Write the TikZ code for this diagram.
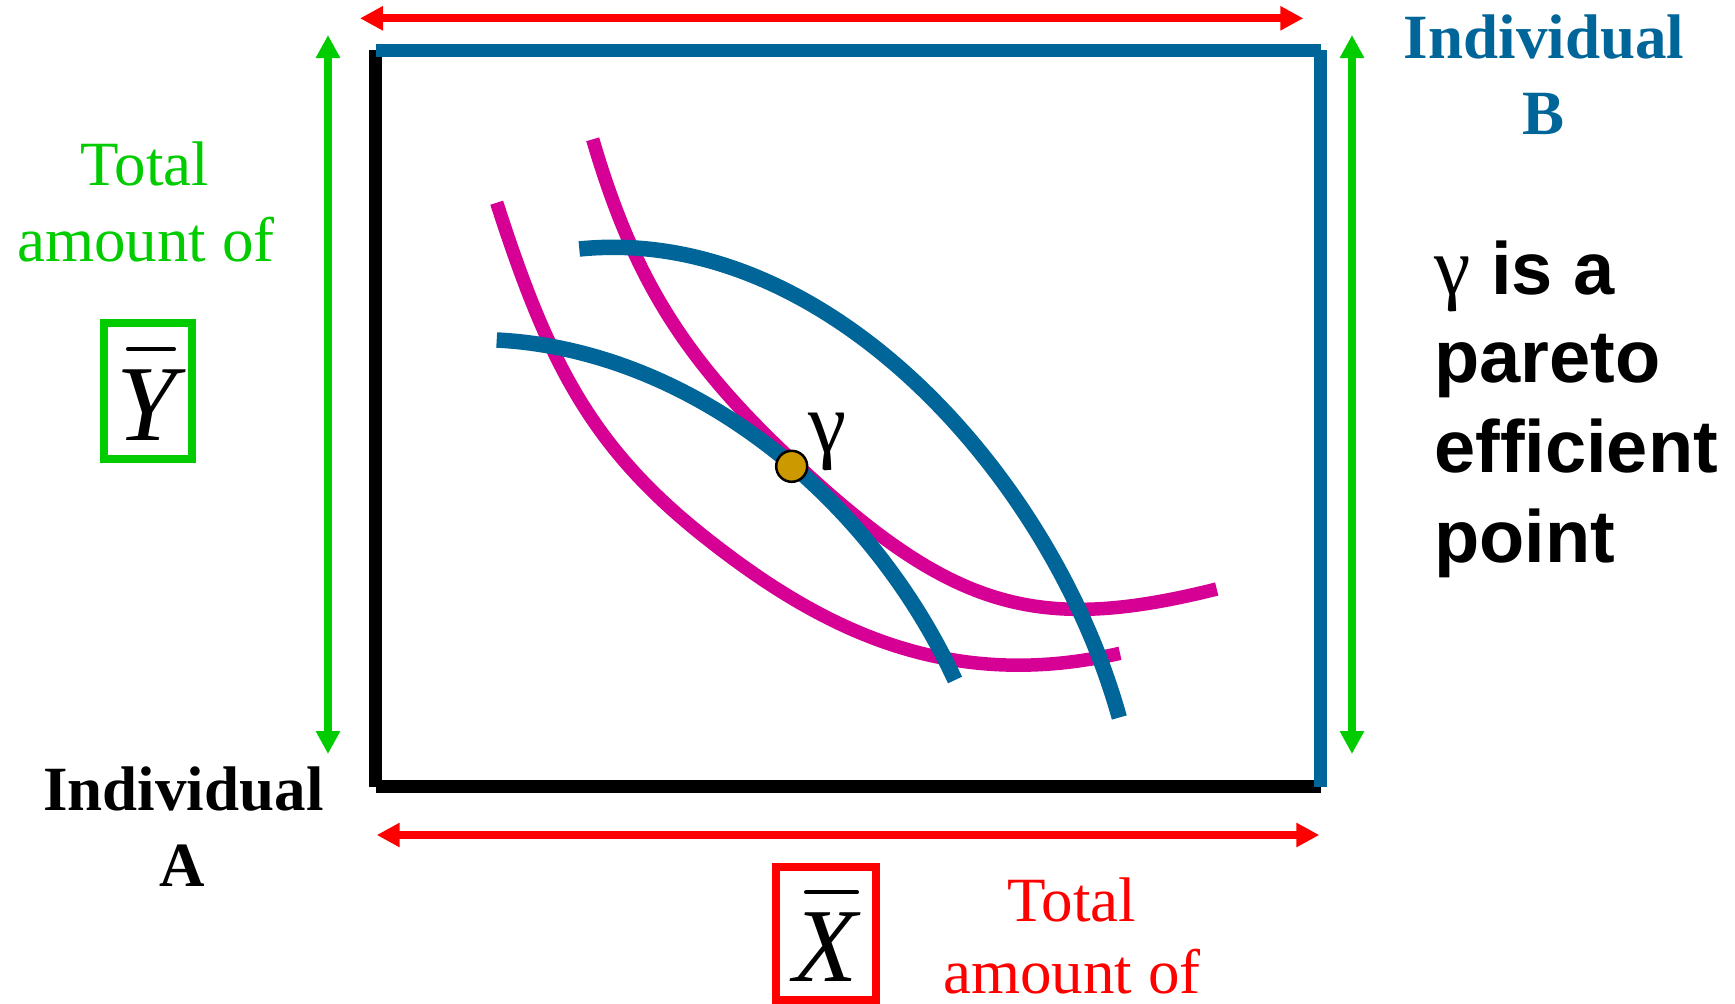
\documentclass[tikz,border=0pt]{standalone}
\usepackage{fontspec}
\setmainfont{Liberation Serif}
\newfontfamily\arialfont{Liberation Sans}[Ligatures=NoCommon]
\usetikzlibrary{arrows.meta}
\definecolor{myblue}{RGB}{0,102,153}
\definecolor{mymag}{RGB}{214,0,148}
\definecolor{mygreen}{RGB}{0,204,0}
\definecolor{myred}{RGB}{255,0,0}
\definecolor{mygold}{RGB}{204,153,0}
\begin{document}
\begin{tikzpicture}[x=1pt,y=-1pt,
  dimarrow/.style={line width=8pt,{Triangle[length=23pt,width=23pt]}-{Triangle[length=23pt,width=23pt]}},
  frameline/.style={line width=12.7pt},
  magcurve/.style={draw=mymag,line width=13.5pt},
  bluecurve/.style={draw=myblue,line width=15.5pt},
  txt/.style={anchor=base,inner sep=0pt},
  serifbig/.style={txt,font=\fontsize{63}{75}\selectfont},
  serifbold/.style={txt,font=\bfseries\fontsize{63}{75}\selectfont},
  sansbold/.style={anchor=base west,inner sep=0pt,font=\arialfont\bfseries\fontsize{74}{89}\selectfont},
  symbox/.style={line width=7.7pt},
  symbar/.style={line width=4pt,line cap=round}]
\useasboundingbox (0,0) rectangle (1735,1004);
\fill[white] (0,0) rectangle (1735,1004);

% frame
\coordinate (tl) at (375.5,50.3);
\coordinate (bl) at (375.5,786.5);
\coordinate (br) at (1320.5,786.5);
\coordinate (tr) at (1320.5,50.3);
\draw[frameline,black] (tl) -- (bl);
\draw[frameline,black] (bl) -- (br);
\draw[frameline,myblue] (tl) -- (tr);
\draw[frameline,myblue] (tr) -- (br);

% dimension arrows
\coordinate (rtL) at (360,18.3);
\coordinate (rtR) at (1303.3,18.3);
\coordinate (rbL) at (376.7,835);
\coordinate (rbR) at (1319.3,835);
\coordinate (glT) at (328,35);
\coordinate (glB) at (328,754);
\coordinate (grT) at (1352,35);
\coordinate (grB) at (1352,754);
\draw[dimarrow,myred] (rtL) -- (rtR);
\draw[dimarrow,myred] (rbL) -- (rbR);
\draw[dimarrow,mygreen] (glT) -- (glB);
\draw[dimarrow,mygreen] (grT) -- (grB);

% indifference curves of A (magenta)
\draw[magcurve] (496.7,202.7) .. controls (548,362) and (591,445.4) .. (700,533.3)
                 .. controls (817.2,627.1) and (944.5,693.3) .. (1120,653.3);
\draw[magcurve] (592.7,139.3) .. controls (633.8,279) and (684.4,360.1) .. (795,463)
                 .. controls (951.9,609) and (1036.2,634.2) .. (1216.7,589);
% indifference curves of B (blue)
\draw[bluecurve] (496.7,340) .. controls (687.6,349.6) and (868,492) .. (955,680);
\draw[bluecurve] (579.3,249) .. controls (828.1,224) and (1053,479.2) .. (1119.3,717.5);

% pareto point
\node[circle,fill=mygold,draw=black,line width=2.5pt,minimum size=31pt,inner sep=0pt] (gammapt) at (791.7,466.3) {};
\node[anchor=base west,inner sep=0pt,font=\fontsize{86}{90}\selectfont] (gammalbl) at (808,452) {γ};

% Y bar box
\draw[symbox,mygreen] (104,323) rectangle (192,459);
\node[txt,font=\itshape\fontsize{108}{110}\selectfont] (ysym) at (147,440.7) {Y};
\coordinate (ybarL) at (128,349.3);
\coordinate (ybarR) at (174,349.3);
\draw[symbar] (ybarL) -- (ybarR);

% X bar box
\draw[symbox,myred] (776,866.7) rectangle (876,1000);
\node[txt,font=\itshape\fontsize{105}{110}\selectfont] (xsym) at (826,981.7) {X};
\coordinate (xbarL) at (806,892.3);
\coordinate (xbarR) at (857,892.3);
\draw[symbar] (xbarL) -- (xbarR);

% texts
\node[serifbig,text=mygreen] (gtot1) at (145,185) {Total};
\node[serifbig,text=mygreen] (gtot2) at (146,261.7) {amount of};
\node[serifbig,text=myred] (rtot1) at (1072,921) {Total};
\node[serifbig,text=myred] (rtot2) at (1072,993) {amount of};
\node[serifbold,text=myblue] (indB1) at (1544,58.2) {Individual};
\node[serifbold,text=myblue] (indB2) at (1543,134) {B};
\node[serifbold,text=black] (indA1) at (183.5,810.5) {Individual};
\node[serifbold,text=black] (indA2) at (182,886) {A};

\node[sansbold] (p1) at (1434,294) {{\rmfamily\mdseries\fontsize{82}{89}\selectfont γ} is a};
\node[sansbold] (p2) at (1434,382.7) {pareto};
\node[sansbold] (p3) at (1434,472.6) {efficient};
\node[sansbold] (p4) at (1434,562.6) {point};
\end{tikzpicture}
\end{document}
